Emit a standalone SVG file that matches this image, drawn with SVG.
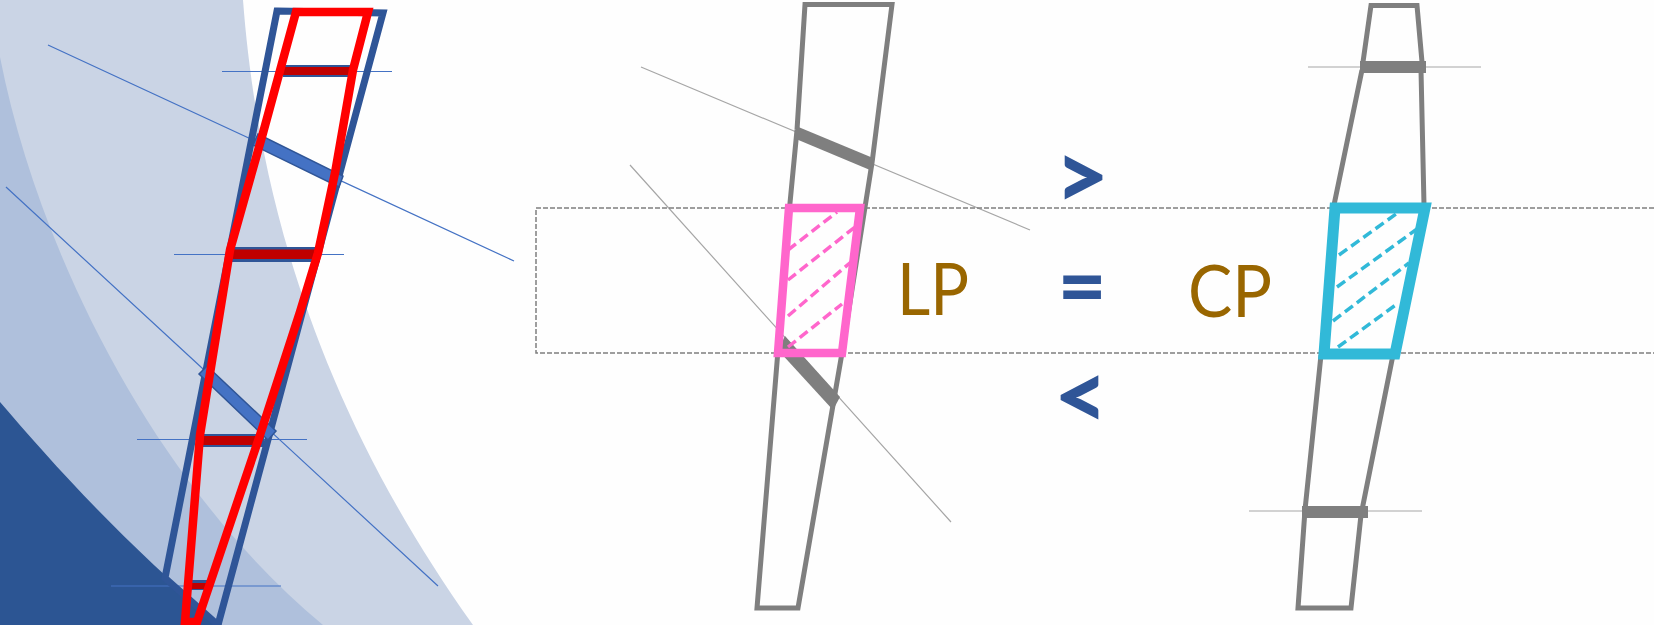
<svg xmlns="http://www.w3.org/2000/svg" width="1654" height="625" viewBox="0 0 1654 625">
<defs><style>
.blue{fill:none;stroke:#2f5597;stroke-width:7;stroke-linejoin:miter}
.red{fill:none;stroke:#ff0000;stroke-width:8.500;stroke-linejoin:miter}
.thinb{stroke:#4472c4;stroke-width:1.200;fill:none}
.thing{stroke:#a6a6a6;stroke-width:1.200;fill:none}
.grey{fill:none;stroke:#7f7f7f;stroke-width:5;stroke-linejoin:miter}
.dash{fill:none;stroke:#7f7f7f;stroke-width:1.500;stroke-dasharray:5 2}
.pk{fill:none;stroke:#ff66cc;stroke-width:8.500;stroke-linejoin:miter}
.pkd{fill:none;stroke:#ff66cc;stroke-width:3.500;stroke-dasharray:10 5}
.cy{fill:none;stroke:#31b9d8;stroke-width:11;stroke-linejoin:miter}
.cyd{fill:none;stroke:#31b9d8;stroke-width:3.500;stroke-dasharray:10 5}
.lab{font-family:Lato,"Noto Sans",sans-serif;font-size:72px;fill:#996600}
.op{font-family:Lato,"Noto Sans",sans-serif;font-weight:900;font-size:94px;fill:#2f5597;text-anchor:middle}
.eq{font-size:84px}
</style></defs>
<g id="background">
<rect width="1654" height="625" fill="#fefefe"/>
<path d="M0 0H243C256 170 305 390 473 625H0Z" fill="#cad4e5"/>
<path d="M0 57C40 260 160 490 323 625H0Z" fill="#afc0dc"/>
<path d="M0 402C50 460 120 540 222 625H0Z" fill="#2c5593"/>
</g>
<g id="left-blade">
<path class="thinb" d="M48 45L514 261M222 71.500H392M6 187L438 586M174 254.500H344M137 439.500H307M111 586H281"/>
<path d="M283 65H356V77H283Z" fill="#2f5597"/>
<path d="M283 67H354V75H283Z" fill="#c00000"/>
<path d="M232 247H320V262H232Z" fill="#2f5597"/>
<path d="M233 249.500H318V259H233Z" fill="#c00000"/>
<path d="M198 434H264V447H198Z" fill="#2f5597"/>
<path d="M198 436H258V445H198Z" fill="#c00000"/>
<path d="M188 580H208V590H188Z" fill="#2f5597"/>
<path d="M188 583H206V589H188Z" fill="#c00000"/>
<path class="blue" d="M277 11L383 13L218 625L165 578Z"/>
<path d="M253 145L258 134L343 176L339 187Z" fill="#4472c4" stroke="#2f5597" stroke-width="1.500"/>
<path d="M199 374L207 366L276 431L268 440Z" fill="#4472c4" stroke="#2f5597" stroke-width="1.500"/>
<path class="red" d="M296 12H368L353 70L335 173L318 253L300 312L260 435L197 622L185 622L200 435L230 250L263 133Z"/>
</g>
<g id="middle-blade">
<path class="thing" d="M641 67L1030 230M630 165L951 522"/>
<path class="dash" d="M1654 208H536V353H1654"/>
<path class="grey" d="M805 4.500H892L872 163L842 353L798 608H757L790 203L797 130Z"/>
<path d="M796 126L873 158L870 170L796 139Z" fill="#7f7f7f"/>
<path d="M785 336L840 397L833 410L778 350Z" fill="#7f7f7f"/>
<path class="pkd" d="M788 250L837 212M788 280L855 227M788 316L851 262M788 347L842 304"/>
<path class="pk" d="M789 208H860L842 353H778Z"/>
<text class="lab" x="897" y="315" textLength="72" lengthAdjust="spacingAndGlyphs">LP</text>
</g>
<g id="operators">
<text class="op" x="1082" y="209">&gt;</text>
<text class="op eq" x="1082" y="315">=</text>
<text class="op" x="1081" y="429">&lt;</text>
</g>
<g id="right-blade">
<path class="thing" d="M1308 67H1481M1249 511H1422"/>
<path class="grey" d="M1363 62L1371 5.500H1417L1422 62M1362 70L1334 205M1421 70L1424 205"/>
<path class="grey" d="M1321 355L1305 510L1298 608H1351L1361 515L1393 355"/>
<rect x="1360" y="61" width="66" height="12" fill="#7f7f7f"/>
<rect x="1302" y="506" width="66" height="12" fill="#7f7f7f"/>
<path class="cyd" d="M1339 255L1396 214M1337 287L1417 229M1333 321L1409 263M1338 347L1397 304"/>
<path class="cy" d="M1335 208H1425L1395 354H1324Z"/>
<text class="lab" x="1188" y="317" textLength="84" lengthAdjust="spacingAndGlyphs">CP</text>
</g>
</svg>
